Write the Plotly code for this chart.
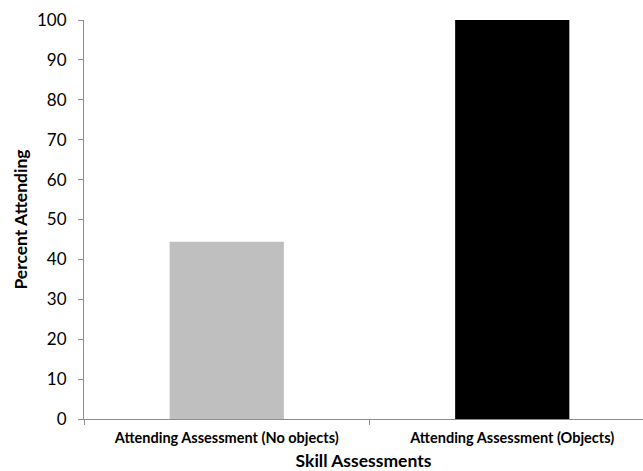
import plotly.graph_objects as go

categories = ["Attending Assessment (No objects)", "Attending Assessment (Objects)"]
values = [44.4, 100]
colors = ["#bfbfbf", "#000000"]
y_ticks = list(range(0, 101, 10))

fig = go.Figure(go.Bar(x=categories, y=values, marker=dict(color=colors, line=dict(width=0)), width=0.4))

font_family = "Lato, 'Open Sans', sans-serif"
fig.update_layout(
    width=643, height=471,
    margin=dict(l=84, r=0, t=20, b=52),
    plot_bgcolor="white", paper_bgcolor="white",
    showlegend=False,
    font=dict(family=font_family, color="black"),
)
fig.update_xaxes(
    type="category",
    range=[-0.5, 1.458],
    showline=True, linecolor="#8c8c8c", linewidth=1,
    ticks="outside", tickson="boundaries", ticklen=5, tickcolor="#8c8c8c",
    tickfont=dict(size=14.5, family=font_family, weight="bold"),
    ticklabelstandoff=6,
    title=dict(text="Skill Assessments", font=dict(size=17.5, weight="bold"), standoff=10),
    showgrid=False,
)
fig.update_yaxes(
    range=[0, 100],
    tickvals=y_ticks,
    showline=True, linecolor="#8c8c8c", linewidth=1,
    ticks="outside", ticklen=5, tickcolor="#8c8c8c",
    tickfont=dict(size=17),
    ticklabelstandoff=8,
    title=dict(text="Percent Attending", font=dict(size=17.5, weight="bold"), standoff=4),
    showgrid=False, zeroline=False,
)

fig.write_html("out.html")
